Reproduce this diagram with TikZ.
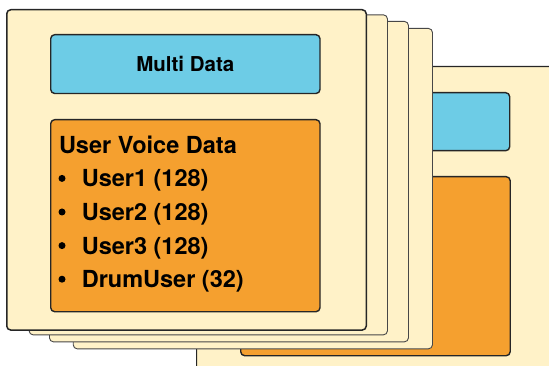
\documentclass[tikz,border=0pt]{standalone}
\usepackage{fontspec}
\setmainfont{TeX Gyre Heros}
\definecolor{cream}{HTML}{FFF2C8}
\definecolor{skyb}{HTML}{6DCCE6}
\definecolor{orng}{HTML}{F5A02F}
\definecolor{edge}{HTML}{262626}
\begin{document}
\begin{tikzpicture}[x=1pt,y=-1pt,
  card/.style={draw=edge,fill=cream,line width=1.2pt,rounded corners=4pt,anchor=north west,inner sep=0pt},
  backcard/.style={card,line width=0.9pt,draw=edge!85},
  bluebox/.style={draw=edge,fill=skyb,line width=1.4pt,rounded corners=4pt,anchor=north west,inner sep=0pt},
  orangebox/.style={draw=edge,fill=orng,line width=1.4pt,rounded corners=4pt,anchor=north west,inner sep=0pt},
  item/.style={anchor=base west,inner sep=0pt,font=\fontsize{23.5}{28}\selectfont\bfseries},
  dot/.style={circle,fill=black,inner sep=0pt,minimum size=7pt}]
\useasboundingbox (0,0) rectangle (549,366);
\clip (0,0) rectangle (549,366);
% back card
\node[card,minimum width=370pt,minimum height=310pt] (bk) at (196,66) {};
\node[bluebox,minimum width=309pt,minimum height=58pt] (bkb) at (200,92) {};
\node[orangebox,minimum width=269.5pt,minimum height=179pt] (bko) at (240,176) {};
% stacked cards
\node[backcard,minimum width=359.2pt,minimum height=320.4pt] (c4) at (72.8,28) {};
\node[backcard,minimum width=359pt,minimum height=320.4pt] (c3) at (49,21) {};
\node[backcard,minimum width=358.3pt,minimum height=320pt] (c2) at (28.7,14.4) {};
\node[card,minimum width=359.5pt,minimum height=320.3pt,line width=1.5pt] (c1) at (6,9) {};
% inner boxes
\node[bluebox,minimum width=269.3pt,minimum height=58.8pt] (multi) at (50,34) {};
\node[font=\fontsize{20.5}{24}\selectfont\bfseries] (multit) at (multi.center) {Multi Data};
\node[orangebox,minimum width=269.3pt,minimum height=192pt] (uvd) at (50,119) {};
\node[item] (title) at (58.8,153.4) {User Voice Data};
\node[item] (u1) at (81.6,187) {User1 (128)};
\node[item] (u2) at (81.6,220.6) {User2 (128)};
\node[item] (u3) at (81.6,254.2) {User3 (128)};
\node[item] (u4) at (81.6,287.8) {DrumUser (32)};
\node[dot] (d1) at (62,178.4) {};
\node[dot] (d2) at (62,212) {};
\node[dot] (d3) at (62,245.6) {};
\node[dot] (d4) at (62,279.2) {};
\end{tikzpicture}
\end{document}
